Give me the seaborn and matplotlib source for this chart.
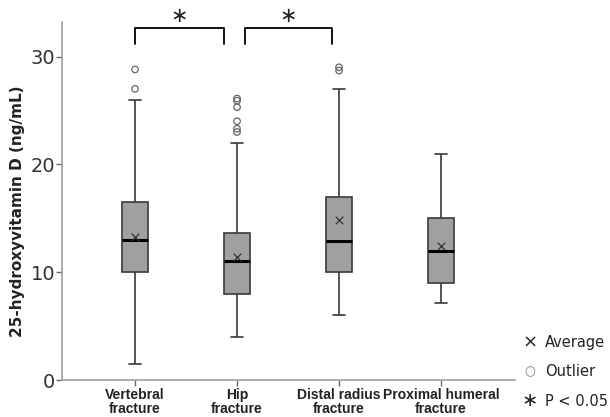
import numpy as np
import pandas as pd
import matplotlib
matplotlib.use("Agg")
import matplotlib.pyplot as plt
import seaborn as sns

# ---- data ----
categories = ["Vertebral\nfracture", "Hip\nfracture", "Distal radius\nfracture", "Proximal humeral\nfracture"]
whisker_low = [1.5, 4.0, 6.0, 7.1]
q1 = [10.0, 8.0, 10.0, 9.0]
median = [13.0, 11.0, 12.9, 12.0]
q3 = [16.5, 13.6, 17.0, 15.0]
whisker_high = [26.0, 22.0, 27.0, 21.0]
means = [13.3, 11.4, 14.8, 12.4]
outlier_group = [0, 0, 1, 1, 1, 1, 1, 1, 2, 2]
outlier_value = [28.8, 27.0, 26.1, 25.9, 25.3, 24.0, 23.3, 23.0, 29.0, 28.7]
yticks = [0, 10, 20, 30]
brackets = [(0, 1, "∗"), (1, 2, "∗")]

sns.set_style("white")
plt.rcParams["font.family"] = ["DejaVu Sans"]

# five-number summaries per group as a long table
rows = []
for c, lo, a, m, b, hi in zip(categories, whisker_low, q1, median, q3, whisker_high):
    for v in (lo, a, m, b, hi):
        rows.append({"group": c, "value": v})
df = pd.DataFrame(rows)

fig = plt.figure(figsize=(6.1, 4.17), dpi=100)
ax = fig.add_axes([62 / 610, 1 - 380 / 417, (515 - 62) / 610, (380 - 22) / 417])

sns.boxplot(data=df, x="group", y="value", order=categories, whis=(0, 100),
            showfliers=False, width=0.25, color="#a0a0a0", saturation=1,
            linecolor="#3a3a3a", linewidth=1.2,
            medianprops=dict(color="black", linewidth=2.2), ax=ax)

# outliers
ax.scatter(outlier_group, outlier_value, s=22, facecolors="none",
           edgecolors="#666666", linewidths=0.9, zorder=5)
# means
sns.scatterplot(x=list(range(len(categories))), y=means, marker="x", s=30,
                color="#333333", linewidth=0.9, ax=ax, zorder=6)

ax.set_xlim(-0.716, 3.725)
ax.set_ylim(0, 33.2)
ax.set_yticks(yticks)
ax.set_yticklabels([str(t) for t in yticks], fontsize=14, color="#333333")
ax.set_xticks(range(len(categories)))
ax.set_xticklabels(categories, fontsize=10, fontweight="bold", color="#222222",
                   linespacing=1.0, family=["Liberation Sans", "DejaVu Sans"])
ax.set_xlabel("")
ax.set_ylabel("25-hydroxyvitamin D (ng/mL)", fontsize=11, fontweight="bold",
              color="#222222")
ax.yaxis.set_label_coords(-0.082, 0.472)
for s in ["top", "right"]:
    ax.spines[s].set_visible(False)
for s in ["left", "bottom"]:
    ax.spines[s].set_color("#a0a0a0")
    ax.spines[s].set_linewidth(1.2)
ax.tick_params(axis="both", direction="out", length=4, width=1, color="#666666",
               left=True, bottom=True)
ax.tick_params(axis="x", pad=2)
ax.tick_params(axis="y", pad=1)

# significance brackets
offsets = [(0.0, 0.87), (1.08, 1.93)]
for (i, j, star), (x0, x1) in zip(brackets, offsets):
    ax.plot([x0, x0, x1, x1], [31.2, 32.6, 32.6, 31.2], color="black",
            linewidth=1.3, clip_on=False)
    ax.text((x0 + x1) / 2, 33.75, star, ha="center", va="center", fontsize=15,
            color="#222222", clip_on=False)

# legend text
fig.text(530 / 610, 1 - 343 / 417, "×", ha="center", va="center", fontsize=13, color="#222222")
fig.text(545 / 610, 1 - 343 / 417, "Average", ha="left", va="center", fontsize=10.5, color="#222222")
fig.text(530 / 610, 1 - 372 / 417, "○", ha="center", va="center", fontsize=9, color="#777777")
fig.text(545 / 610, 1 - 372 / 417, "Outlier", ha="left", va="center", fontsize=10.5, color="#222222")
fig.text(530 / 610, 1 - 401 / 417, "∗", ha="center", va="center", fontsize=14, color="#222222")
fig.text(545 / 610, 1 - 402 / 417, "P < 0.05", ha="left", va="center", fontsize=10.5, color="#222222")

fig.savefig("out.png", dpi=100)
